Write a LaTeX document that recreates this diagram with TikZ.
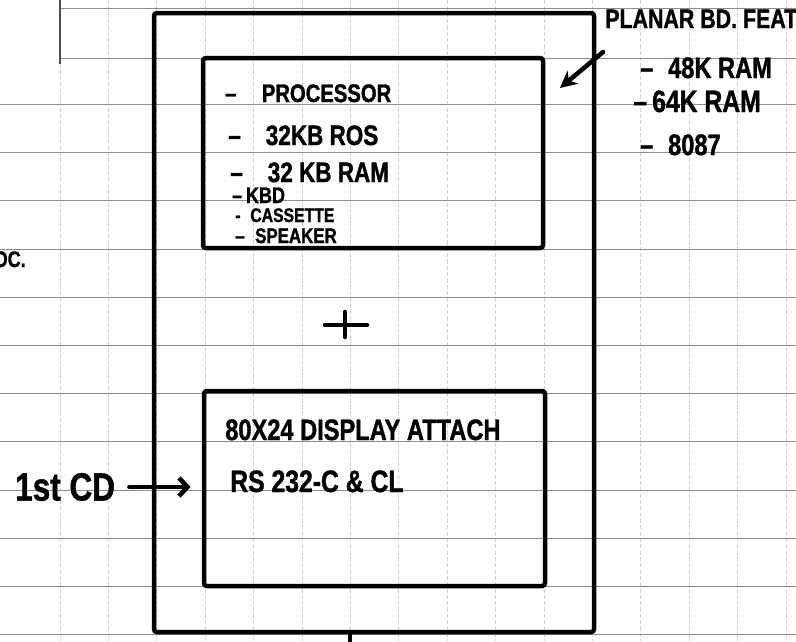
\documentclass[tikz,border=0pt]{standalone}
\usepackage{fontspec}
\newfontfamily\handfont[FakeStretch=0.8,BoldFeatures={FakeBold=1.2}]{Liberation Sans}
\usepackage{tikz}
\usetikzlibrary{arrows.meta,positioning,fit}

\begin{document}
\begin{tikzpicture}[x=0.025cm,y=-0.025cm,
  pen/.style={line width=3.2pt,line cap=round,line join=round},
  box/.style={pen,draw,inner sep=0pt,rounded corners=2pt},
  hline/.style={black!45,line width=0.6pt},
  vline/.style={black!18,line width=0.5pt,dash pattern=on 3pt off 1.5pt},
  note/.style={anchor=base west,inner sep=0pt,
    font=\handfont\bfseries\fontsize{#1}{#1}\selectfont},
  note/.default=18pt]
  \useasboundingbox (0,0) rectangle (796,641);
  \clip (0,0) rectangle (796,641);
  % squared paper
  \foreach \k in {0,...,15}
    \draw[vline] (60+48.4*\k,0) -- (60+48.4*\k,641);
  \foreach \k in {2,...,13}
    \draw[hline] (0,8+48.2*\k) -- (796,8+48.2*\k);
  \draw[hline] (60,8) -- (796,8);
  \draw[hline] (60,58) -- (796,58);
  \draw[black!70,line width=0.8pt] (60,0) -- (60,64);

  % planar board with its two blocks
  \node[box,fit={(154,13) (594,632)}] (planar) {};
  \node[box,fit={(203,58) (543,248)}] (sysbox) {};
  \node[box,fit={(204,391) (545,586)}] (dispbox) {};
  \draw[pen] (325,325) -- (367,325) (345,312) -- (345,337);
  \draw[pen] (350,632) -- (350,645);

  \node[note] (proc) at (225,102) {–\quad PROCESSOR};
  \node[note=20pt] (ros) at (228,145) {–\enspace\, 32KB ROS};
  \node[note=20pt] (ram) at (230,182) {–\enspace\, 32 KB RAM};
  \node[note=16pt] (kbd) at (232,203) {–\,KBD};
  \node[note=14pt] (cass) at (235,222) {-\enspace CASSETTE};
  \node[note=15pt] (spk) at (235,243) {–\enspace SPEAKER};

  \node[note=21pt] (disp) at (225,440) {80X24 DISPLAY ATTACH};
  \node[note=22pt] (rs) at (230,492) {RS 232-C \& CL};

  \node[note=19pt] (feat) at (605,28) {PLANAR BD. FEAT};
  \node[note=21pt] (k48) at (640,78) {–\enspace 48K RAM};
  \node[note=22pt] (k64) at (633,112) {–\,64K RAM};
  \node[note=21pt] (fpu) at (640,155) {–\enspace 8087};
  \coordinate (feattail) at (603,52);
  \coordinate (feattip) at (560,88);
  \draw[pen,-{Stealth[length=12pt,width=12pt]}] (feattail) -- (feattip);

  \node[note=16pt,anchor=base east] (doc) at (26,267) {OC.};
  \node[note=28pt,anchor=west] (cd) at (15,487) {1st CD};
  \draw[pen,-{Straight Barb[length=6pt,width=13pt]},shorten <=10pt,shorten >=8pt]
    (cd.east) -- (cd.east -| dispbox.west);
\end{tikzpicture}
\end{document}
